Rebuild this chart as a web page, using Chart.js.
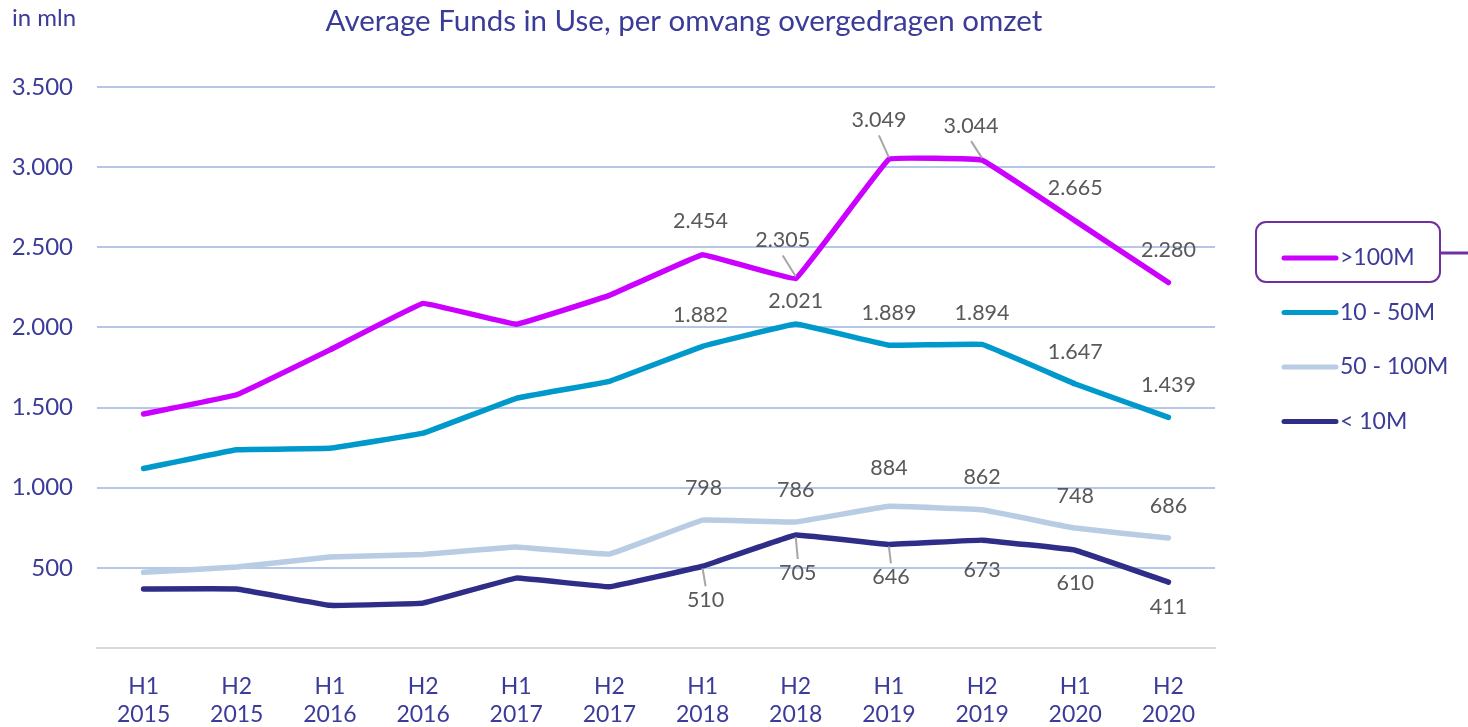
<!DOCTYPE html>
<html>
<head>
<meta charset="utf-8">
<script src="https://cdn.jsdelivr.net/npm/chart.js@4.4.1/dist/chart.umd.min.js"></script>
<style>
html,body{margin:0;padding:0;background:#fff;}
#wrap{width:1468px;height:727px;position:relative;}
</style>
</head>
<body>
<div id="wrap"><canvas id="c" width="1468" height="727"></canvas></div>
<script>
const categories = [['H1','2015'],['H2','2015'],['H1','2016'],['H2','2016'],['H1','2017'],['H2','2017'],['H1','2018'],['H2','2018'],['H1','2019'],['H2','2019'],['H1','2020'],['H2','2020']];
const seriesNames = ['>100M','10 - 50M','50 - 100M','< 10M'];
const over100M = [1460, 1580, 1860, 2150, 2020, 2200, 2454, 2305, 3049, 3044, 2665, 2280];
const m10to50 = [1120, 1237, 1246, 1340, 1558, 1664, 1882, 2021, 1889, 1894, 1647, 1439];
const m50to100 = [472, 505, 568, 584, 630, 586, 798, 786, 884, 862, 748, 686];
const under10M = [368, 368, 266, 280, 436, 382, 510, 705, 646, 673, 610, 411];
const yTicks = [500, 1000, 1500, 2000, 2500, 3000, 3500];

const TEXT = '#3B3B98';
const LABEL = '#595959';
const FONT = 'Lato, "Open Sans", sans-serif';
const colors = ['#CC00FF', '#0099CC', '#B8CCE4', '#2E2D88'];

// label placement (style): [dx, dy, leader]
const labelPos = [
  [null,null,null,null,null,null,[-2,-34,0],[-13,-38,1],[-10,-39,1],[-11,-34,1],[0,-33,0],[0,-32,0]],
  [null,null,null,null,null,null,[-2,-31,0],[0,-23,0],[0,-32,0],[0,-31,0],[0,-32,0],[0,-32,0]],
  [null,null,null,null,null,null,[1,-32,0],[0,-32,0],[0,-38,0],[0,-33,0],[0,-32,0],[0,-32,0]],
  [null,null,null,null,null,null,[3,34,1],[2,38,1],[2,33,1],[0,30,0],[0,33,0],[0,25,0]]
];

function fmt(v){ return String(v).replace(/\B(?=(\d{3})+(?!\d))/g, '.'); }

const overlay = {
  id: 'overlay',
  afterDraw(chart){
    const ctx = chart.ctx;
    ctx.save();
    // title
    ctx.fillStyle = TEXT;
    ctx.font = '29.5px ' + FONT;
    ctx.textAlign = 'center';
    ctx.textBaseline = 'middle';
    ctx.fillText('Average Funds in Use, per omvang overgedragen omzet', 684, 21);
    ctx.font = '24px ' + FONT;
    ctx.textAlign = 'left';
    ctx.fillText('in mln', 12, 18);
    // data labels
    ctx.font = '21.5px ' + FONT;
    ctx.textAlign = 'center';
    chart.data.datasets.forEach((ds, di) => {
      const meta = chart.getDatasetMeta(di);
      meta.data.forEach((pt, i) => {
        const p = labelPos[di][i];
        if (!p) return;
        const lx = pt.x + p[0], ly = pt.y + p[1];
        if (p[2]) {
          ctx.strokeStyle = '#A6A6A6';
          ctx.lineWidth = 2;
          ctx.beginPath();
          const sy = p[1] < 0 ? ly + 15 : ly - 14;
          ctx.moveTo(lx, sy);
          ctx.lineTo(pt.x, pt.y + (p[1] < 0 ? -2 : 2));
          ctx.stroke();
        }
        ctx.fillStyle = LABEL;
        ctx.fillText(fmt(ds.data[i]), lx, ly);
      });
    });
    // legend
    const ly0 = 258, step = 54.5;
    chart.data.datasets.forEach((ds, di) => {
      const y = ly0 + di * step;
      ctx.strokeStyle = ds.borderColor;
      ctx.lineWidth = 5;
      ctx.lineCap = 'round';
      ctx.beginPath();
      ctx.moveTo(1284, y); ctx.lineTo(1336, y);
      ctx.stroke();
      ctx.fillStyle = TEXT;
      ctx.textAlign = 'left';
      ctx.font = '23px ' + FONT;
      ctx.fillText(ds.label, 1340, y);
    });
    // selection box around first legend entry
    ctx.strokeStyle = '#7030A0';
    ctx.lineWidth = 2;
    ctx.lineCap = 'butt';
    ctx.beginPath();
    ctx.roundRect(1256, 222, 184, 60, 10);
    ctx.stroke();
    ctx.lineWidth = 3;
    ctx.beginPath();
    ctx.moveTo(1440, 253); ctx.lineTo(1468, 253);
    ctx.stroke();
    ctx.restore();
  }
};

new Chart(document.getElementById('c'), {
  type: 'line',
  data: {
    labels: categories,
    datasets: [
      {label: seriesNames[0], data: over100M},
      {label: seriesNames[1], data: m10to50},
      {label: seriesNames[2], data: m50to100},
      {label: seriesNames[3], data: under10M}
    ].map((d, i) => Object.assign(d, {
      borderColor: colors[i], backgroundColor: colors[i], borderWidth: 5.5,
      pointRadius: 0, tension: 0.05, borderCapStyle: 'round', borderJoinStyle: 'round', fill: false
    }))
  },
  options: {
    responsive: false,
    animation: false,
    layout: {padding: {left: 0, right: 253, top: 87, bottom: 0}},
    plugins: {legend: {display: false}, tooltip: {enabled: false}, title: {display: false}},
    scales: {
      x: {
        offset: true,
        grid: {display: false},
        border: {display: true, color: '#D9D9D9', width: 2},
        ticks: {color: TEXT, font: {family: FONT, size: 23, lineHeight: 1.2}, padding: 17, maxRotation: 0, autoSkip: false},
        afterFit: s => { s.height = 79; }
      },
      y: {
        min: 0, max: 3500,
        afterBuildTicks: s => { s.ticks = [0].concat(yTicks).map(v => ({value: v})); },
        grid: {color: c => (c.tick && c.tick.value === 0) ? 'rgba(0,0,0,0)' : '#B4C7E7', lineWidth: 2, drawTicks: false},
        border: {display: false},
        ticks: {color: TEXT, font: {family: FONT, size: 24}, padding: 24, callback: v => v === 0 ? '' : fmt(v)},
        afterFit: s => { s.width = 97; }
      }
    }
  },
  plugins: [overlay]
});
</script>
</body>
</html>
